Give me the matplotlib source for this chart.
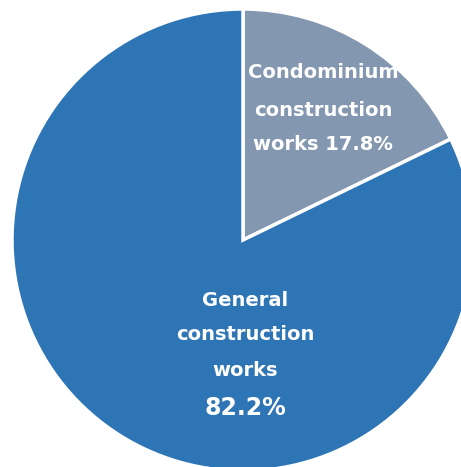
import matplotlib.pyplot as plt

# data
labels = ['Condominium\nconstruction\nworks', 'General\nconstruction\nworks']
shares = [17.8, 82.2]
colors = ['#8497B0', '#2E75B6']

W, H = 461, 467
cx, cy, r = 243, 240, 231  # pie centre / radius in pixels

fig = plt.figure(figsize=(W / 100, H / 100), dpi=100)
ax = fig.add_axes([0, 0, 1, 1])

ax.pie(shares, colors=colors, startangle=90, counterclock=False,
       wedgeprops=dict(edgecolor='white', linewidth=2.5))

# map pixel frame onto data units (radius = 1)
ax.set_aspect('auto')
ax.set_xlim(-cx / r, (W - cx) / r)
ax.set_ylim(-(H - cy) / r, cy / r)
ax.axis('off')

def px(x, y):
    return (x - cx) / r, (cy - y) / r

fs = 14
# condominium label
for txt, y in zip(['Condominium', 'construction', f'works {shares[0]}%'], [73, 110, 144]):
    ax.text(*px(323, y), txt, ha='center', va='center', color='white',
            fontsize=fs, fontweight='bold')

# general label
for txt, y in zip(['General', 'construction', 'works'], [300, 335, 370]):
    ax.text(*px(245, y), txt, ha='center', va='center', color='white',
            fontsize=fs, fontweight='bold')
ax.text(*px(245, 408), f'{shares[1]}%', ha='center', va='center', color='white',
        fontsize=17, fontweight='bold')

fig.savefig('out.png', dpi=100)
